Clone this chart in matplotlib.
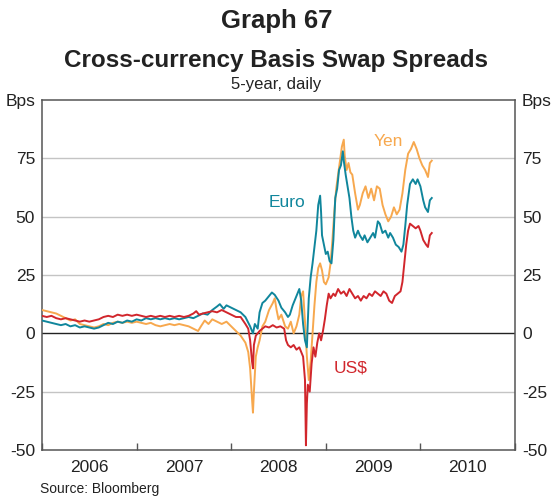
import matplotlib
matplotlib.use("Agg")
import matplotlib.pyplot as plt
from matplotlib.ticker import FixedLocator, NullFormatter

plt.rcParams['font.family'] = ['Liberation Sans', 'DejaVu Sans']

# ---- data (decimal years, basis points) ----
euro_t = [2006.00, 2006.05, 2006.10, 2006.15, 2006.20, 2006.25, 2006.30, 2006.35, 2006.40, 2006.45,
          2006.50, 2006.55, 2006.60, 2006.65, 2006.70, 2006.75, 2006.80, 2006.85, 2006.90, 2006.95,
          2007.00, 2007.05, 2007.10, 2007.15, 2007.20, 2007.25, 2007.30, 2007.35, 2007.40, 2007.45,
          2007.50, 2007.55, 2007.60, 2007.65, 2007.70, 2007.75, 2007.80, 2007.85, 2007.88, 2007.92,
          2007.95, 2008.00, 2008.05, 2008.10, 2008.15, 2008.20, 2008.23, 2008.25, 2008.28, 2008.30,
          2008.33, 2008.36, 2008.40, 2008.43, 2008.46, 2008.50, 2008.53, 2008.57, 2008.60, 2008.62,
          2008.65, 2008.68, 2008.72, 2008.74, 2008.76, 2008.78, 2008.80, 2008.81, 2008.82, 2008.84,
          2008.86, 2008.88, 2008.90, 2008.92, 2008.94, 2008.95, 2008.96, 2008.98, 2009.00, 2009.02,
          2009.04, 2009.06, 2009.08, 2009.10, 2009.12, 2009.14, 2009.16, 2009.18, 2009.19, 2009.21,
          2009.23, 2009.25, 2009.27, 2009.29, 2009.31, 2009.34, 2009.36, 2009.39, 2009.41, 2009.44,
          2009.47, 2009.50, 2009.52, 2009.55, 2009.57, 2009.60, 2009.63, 2009.66, 2009.68, 2009.71,
          2009.74, 2009.77, 2009.80, 2009.82, 2009.84, 2009.86, 2009.89, 2009.92, 2009.95, 2009.97,
          2010.00, 2010.03, 2010.05, 2010.08, 2010.10, 2010.12]
euro_v = [5.5, 5, 4.5, 4, 3.5, 4, 3, 3.5, 2.5, 3,
          2.5, 2, 2.5, 3.5, 4.5, 4, 5, 4.5, 5.5, 5,
          6, 5.5, 6.5, 6, 6.5, 6, 6.5, 6, 6.5, 6,
          6.5, 7, 6.5, 7.5, 8.5, 8, 10, 11.5, 12.5, 10.5,
          12, 11, 10, 9, 7, 3, 0, 4, 2, 9,
          13, 14, 16, 17.5, 16.5, 14, 11, 9, 7, 8,
          12, 15, 19, 14, 4, -3, -6, 5, 15, 24,
          30, 37, 44, 55, 59, 52, 42, 38, 34, 35,
          31, 30, 40, 58, 62, 70, 72, 78, 74, 68,
          63, 58, 50, 44, 41, 44, 42, 40, 42, 39,
          41, 43, 41, 48, 47, 43, 44, 41, 43, 41,
          38, 37, 35, 38, 46, 55, 64, 66, 64, 66,
          63, 57, 54, 52, 57, 58]

yen_t = [2006.00, 2006.05, 2006.10, 2006.15, 2006.20, 2006.25, 2006.30, 2006.35, 2006.40, 2006.45,
         2006.50, 2006.55, 2006.60, 2006.65, 2006.70, 2006.75, 2006.80, 2006.85, 2006.90, 2006.95,
         2007.00, 2007.05, 2007.10, 2007.15, 2007.20, 2007.25, 2007.30, 2007.35, 2007.40, 2007.45,
         2007.50, 2007.55, 2007.60, 2007.65, 2007.68, 2007.72, 2007.76, 2007.80, 2007.85, 2007.90,
         2007.95, 2008.00, 2008.05, 2008.10, 2008.15, 2008.18, 2008.20, 2008.22, 2008.23, 2008.24,
         2008.26, 2008.28, 2008.30, 2008.33, 2008.36, 2008.40, 2008.44, 2008.46, 2008.48, 2008.50,
         2008.53, 2008.57, 2008.60, 2008.63, 2008.66, 2008.69, 2008.72, 2008.74, 2008.76, 2008.78,
         2008.80, 2008.82, 2008.84, 2008.86, 2008.88, 2008.90, 2008.92, 2008.94, 2008.96, 2008.98,
         2009.00, 2009.03, 2009.05, 2009.07, 2009.09, 2009.11, 2009.13, 2009.15, 2009.17, 2009.19,
         2009.20, 2009.22, 2009.24, 2009.26, 2009.28, 2009.31, 2009.34, 2009.36, 2009.39, 2009.42,
         2009.45, 2009.48, 2009.51, 2009.54, 2009.57, 2009.60, 2009.63, 2009.66, 2009.69, 2009.72,
         2009.75, 2009.78, 2009.81, 2009.84, 2009.87, 2009.90, 2009.93, 2009.96, 2009.99, 2010.02,
         2010.05, 2010.08, 2010.10, 2010.12]
yen_v = [10, 9.5, 9, 8.5, 7.5, 6.5, 5.5, 6, 4, 3.5,
         3, 2.5, 3, 4, 3.5, 4.5, 5, 4.5, 5, 4.5,
         5, 4.5, 4, 4.5, 3.5, 3, 3.5, 4, 3.5, 4,
         3.5, 3, 2, 1, 3, 5.5, 4, 6, 5, 4,
         5, 3, 1, -1, -4, -8, -15, -28, -34, -25,
         -10, -6, -3, 3, 5, 10, 13, 15, 10, 6,
         8, 3, 2, 5, 0, 3, 8, 16, 18, 5,
         -10, -20, -12, 0, 12, 22, 28, 30, 27, 22,
         21, 24, 30, 40, 52, 62, 68, 74, 80, 83,
         76, 70, 73, 69, 68, 60, 53, 55, 60, 63,
         58, 62, 57, 63, 62, 55, 51, 48, 50, 54,
         51, 53, 60, 70, 77, 79, 82, 79, 75, 72,
         70, 67, 73, 74]

usd_t = [2006.00, 2006.05, 2006.10, 2006.15, 2006.20, 2006.25, 2006.30, 2006.35, 2006.40, 2006.45,
         2006.50, 2006.55, 2006.60, 2006.65, 2006.70, 2006.75, 2006.80, 2006.85, 2006.90, 2006.95,
         2007.00, 2007.05, 2007.10, 2007.15, 2007.20, 2007.25, 2007.30, 2007.35, 2007.40, 2007.45,
         2007.50, 2007.55, 2007.60, 2007.63, 2007.66, 2007.70, 2007.75, 2007.80, 2007.85, 2007.90,
         2007.95, 2008.00, 2008.05, 2008.10, 2008.15, 2008.18, 2008.20, 2008.22, 2008.23, 2008.24,
         2008.26, 2008.28, 2008.30, 2008.33, 2008.36, 2008.40, 2008.44, 2008.48, 2008.52, 2008.56,
         2008.58, 2008.60, 2008.63, 2008.66, 2008.69, 2008.72, 2008.74, 2008.76, 2008.78, 2008.79,
         2008.80, 2008.81, 2008.83, 2008.85, 2008.87, 2008.89, 2008.91, 2008.93, 2008.95, 2008.97,
         2008.99, 2009.01, 2009.03, 2009.05, 2009.08, 2009.10, 2009.13, 2009.16, 2009.19, 2009.22,
         2009.25, 2009.28, 2009.31, 2009.34, 2009.37, 2009.40, 2009.43, 2009.46, 2009.49, 2009.52,
         2009.55, 2009.58, 2009.61, 2009.64, 2009.67, 2009.70, 2009.73, 2009.76, 2009.79, 2009.81,
         2009.83, 2009.85, 2009.87, 2009.89, 2009.92, 2009.95, 2009.98, 2010.00, 2010.03, 2010.06,
         2010.08, 2010.10, 2010.12]
usd_v = [7.5, 7, 7.5, 6.5, 6, 6.5, 6, 5.5, 5, 5.5,
         5, 5.5, 6, 7, 7.5, 7, 8, 7.5, 8, 7.5,
         8, 7.5, 7, 7.5, 7, 7.5, 7, 7.5, 7, 7.5,
         7, 7.5, 8.5, 9.5, 8, 8.5, 9, 9.5, 9, 10,
         9, 8, 7, 7, 4, 2, -3, -12, -15, -5,
         -1, 0, 1, 2, 3, 2.5, 3.5, 2.5, 3, 2,
         -3, -5, -6, -5, -7, -6, -8, -10, -20, -48,
         -30, -22, -25, -13, -6, -10, -4, 0, -3, 1,
         6, 12, 17, 15, 17, 16, 19, 17, 18, 16,
         19, 17, 15, 16, 14, 16, 15, 17, 16, 18,
         17, 16, 18, 17, 14, 13, 16, 17, 18, 22,
         30, 38, 44, 47, 46, 45, 46, 44, 40, 38,
         37, 42, 43]

y_ticks = [-50, -25, 0, 25, 50, 75, 100]
y_labels = ['-50', '-25', '0', '25', '50', '75', 'Bps']
year_labels = ['2006', '2007', '2008', '2009', '2010']
year_bounds = [2006, 2007, 2008, 2009, 2010, 2011]

c_euro = '#10869c'
c_yen = '#f7a84e'
c_usd = '#d1262c'

fig = plt.figure(figsize=(5.53, 4.97), dpi=100)
ax = fig.add_axes([42/553, 47/497, 473/553, 350/497])

for v in [-25, 25, 50, 75]:
    ax.axhline(v, color='#c4c4c4', lw=1.0, zorder=1)
ax.axhline(0, color='#222222', lw=1.0, zorder=1)

ax.plot(yen_t, yen_v, color=c_yen, lw=1.4, zorder=3)
ax.plot(euro_t, euro_v, color=c_euro, lw=1.4, zorder=4)
ax.plot(usd_t, usd_v, color=c_usd, lw=1.4, zorder=5)

ax.set_xlim(2006, 2011)
ax.set_ylim(-50, 100)

ax.set_yticks(y_ticks)
ax.set_yticklabels(y_labels)
ax.tick_params(axis='y', length=0, labelsize=12.5, colors='#222222', pad=5,
               labelleft=True, labelright=True)

ax.xaxis.set_major_locator(FixedLocator(year_bounds))
ax.xaxis.set_major_formatter(NullFormatter())
ax.xaxis.set_minor_locator(FixedLocator([y + 0.5 for y in year_bounds[:-1]]))
ax.set_xticklabels(year_labels, minor=True)
ax.tick_params(axis='x', which='major', direction='in', length=5, width=1, color='#555555')
ax.tick_params(axis='x', which='minor', length=0, labelsize=12.5, colors='#222222', pad=7)

for s in ax.spines.values():
    s.set_color('#555555')
    s.set_linewidth(1.1)

ax.text(2008.40, 56, 'Euro', color=c_euro, fontsize=12.5, ha='left', va='center')
ax.text(2009.50, 82, 'Yen', color=c_yen, fontsize=12.5, ha='left', va='center')
ax.text(2009.08, -15, 'US$', color=c_usd, fontsize=12.5, ha='left', va='center')

fig.text(0.5, 1 - 21/497, 'Graph 67', ha='center', va='center', fontsize=18.5, fontweight='bold',
         color='#222222')
fig.text(0.5, 1 - 60/497, 'Cross-currency Basis Swap Spreads', ha='center', va='center',
         fontsize=17.5, fontweight='bold', color='#222222')
fig.text(0.5, 1 - 85/497, '5-year, daily', ha='center', va='center', fontsize=12, color='#222222')
fig.text(40/553, 1 - 496/497, 'Source: Bloomberg', ha='left', va='bottom', fontsize=10, color='#222222')

fig.savefig('out.png', dpi=100)
